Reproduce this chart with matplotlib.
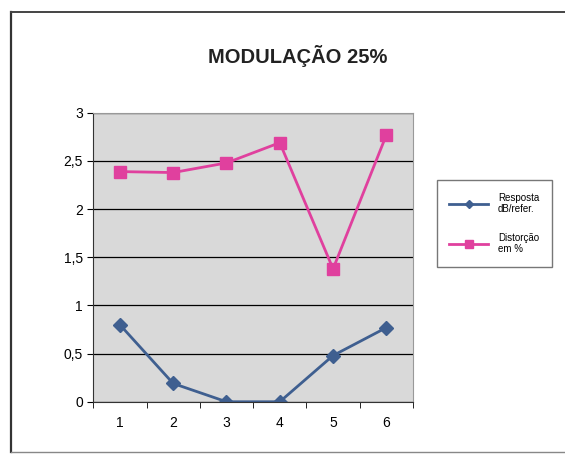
import matplotlib.pyplot as plt
import numpy as np
from matplotlib.lines import Line2D

categorias = [1, 2, 3, 4, 5, 6]
resposta = [0.8, 0.19, 0.0, 0.0, 0.48, 0.77]
distorcao = [2.39, 2.38, 2.48, 2.69, 1.38, 2.77]
yticks = [0, 0.5, 1, 1.5, 2, 2.5, 3]
ylabels = ['0', '0,5', '1', '1,5', '2', '2,5', '3']

plt.rcParams['font.family'] = ['Liberation Sans', 'DejaVu Sans']

fig = plt.figure(figsize=(5.65, 4.55), dpi=100)
fig.patch.set_facecolor('white')

# moldura externa (a direita sai do recorte)
x0, y0, y1 = 11 / 565, 1 - 452 / 455, 1 - 12 / 455
fig.add_artist(Line2D([x0, x0], [y0, y1], transform=fig.transFigure,
                      color='#333333', linewidth=1.6))
fig.add_artist(Line2D([x0, 1.0], [y1, y1], transform=fig.transFigure,
                      color='#444444', linewidth=1.4))
fig.add_artist(Line2D([x0, 1.0], [y0, y0], transform=fig.transFigure,
                      color='#888888', linewidth=1.0))

ax = fig.add_axes([0.165, 0.117, 0.566, 0.635])
ax.set_facecolor('#d9d9d9')

ax.plot(categorias, resposta, color='#3f5f90', marker='D', markersize=7,
        linewidth=2, label='Resposta\ndB/refer.')
ax.plot(categorias, distorcao, color='#e0409e', marker='s', markersize=9,
        linewidth=2, label='Distorção\nem %')

ax.set_xlim(0.5, 6.5)
ax.set_ylim(0, 3)
ax.set_yticks(yticks)
ax.set_yticklabels(ylabels)
ax.set_xticks(categorias)
ax.set_xticks(np.arange(0.5, 7, 1), minor=True)
ax.tick_params(axis='x', which='major', length=0, pad=10, labelsize=10)
ax.tick_params(axis='x', which='minor', length=4, direction='out')
ax.tick_params(axis='y', length=4, direction='out', labelsize=10)
ax.yaxis.grid(True, color='black', linewidth=0.9)
ax.set_axisbelow(True)
for lado in ['top', 'right']:
    ax.spines[lado].set_color('#999999')
for lado in ['left', 'bottom']:
    ax.spines[lado].set_color('#333333')

fig.text(0.527, 0.877, 'MODULAÇÃO 25%', ha='center', va='center',
         fontsize=14.5, fontweight='bold', color='#222222')

leg = fig.legend(*ax.get_legend_handles_labels(), loc='upper left',
                 bbox_to_anchor=(0.773, 0.604), fontsize=7,
                 frameon=True, fancybox=False, edgecolor='#555555',
                 handlelength=4.0, handletextpad=1.0, labelspacing=1.9,
                 borderpad=1.3, borderaxespad=0, markerscale=0.6)
leg.get_frame().set_linewidth(1.0)

plt.savefig('out.png', dpi=100)
